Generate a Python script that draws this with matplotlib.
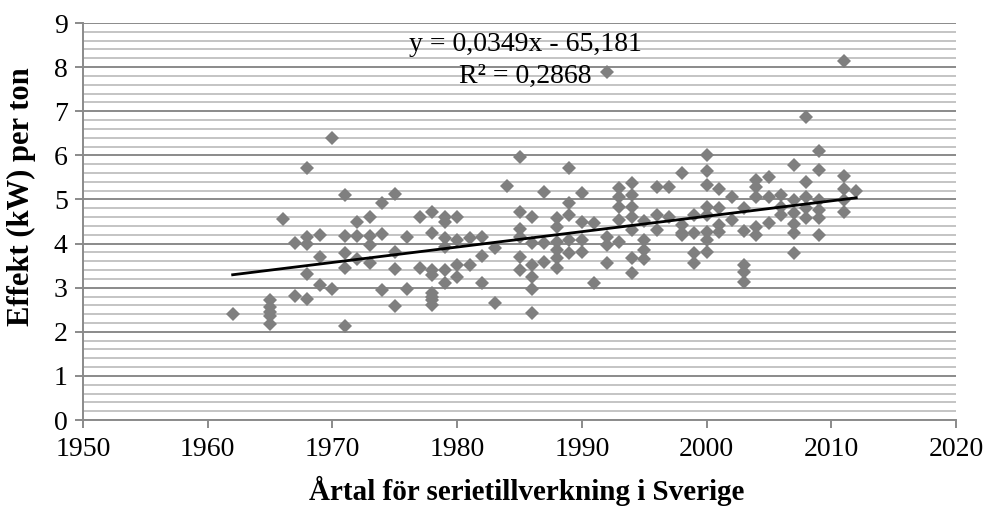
import matplotlib
matplotlib.use("Agg")
import matplotlib.pyplot as plt
from matplotlib.ticker import MultipleLocator

plt.rcParams['font.family'] = ['Liberation Serif', 'DejaVu Serif']

# Year of series production in Sweden and power per ton for each model
years = (
    [1962] + [1965] * 5 + [1966] + [1967] * 2 + [1968] * 5 + [1969] * 3 +
    [1970] * 2 + [1971] * 5 + [1972] * 3 + [1973] * 4 + [1974] * 3 +
    [1975] * 4 + [1976] * 2 + [1977] * 2 + [1978] * 8 + [1979] * 6 +
    [1980] * 4 + [1981] * 2 + [1982] * 3 + [1983] * 2 + [1984] +
    [1985] * 6 + [1986] * 6 + [1987] * 3 + [1988] * 6 + [1989] * 5 +
    [1990] * 4 + [1991] * 2 + [1992] * 4 + [1993] * 5 + [1994] * 7 +
    [1995] * 4 + [1996] * 3 + [1997] * 2 + [1998] * 4 + [1999] * 4 +
    [2000] * 8 + [2001] * 4 + [2002] * 2 + [2003] * 5 + [2004] * 5 +
    [2005] * 3 + [2006] * 3 + [2007] * 6 + [2008] * 5 + [2009] * 6 +
    [2011] * 5 + [2012]
)
power = [
    2.40,
    2.72, 2.57, 2.45, 2.35, 2.18,
    4.56,
    4.01, 2.82,
    5.71, 4.15, 4.00, 3.31, 2.74,
    4.20, 3.70, 3.05,
    6.40, 2.97,
    5.10, 4.17, 3.79, 3.44, 2.13,
    4.50, 4.17, 3.65,
    4.60, 4.17, 3.97, 3.55,
    4.93, 4.22, 2.95,
    5.13, 3.82, 3.42, 2.58,
    4.15, 2.97,
    4.60, 3.44,
    4.72, 4.24, 3.40, 3.29, 2.87, 2.80, 2.72, 2.60,
    4.60, 4.50, 4.13, 3.93, 3.40, 3.10,
    4.60, 4.08, 3.51, 3.25,
    4.13, 3.51,
    4.16, 3.72, 3.10,
    3.90, 2.66,
    5.30,
    5.97, 4.72, 4.33, 4.16, 3.70, 3.40,
    4.60, 4.01, 3.51, 3.25, 2.97, 2.43,
    5.18, 4.01, 3.59,
    4.58, 4.38, 4.04, 3.85, 3.67, 3.44,
    5.71, 4.92, 4.65, 4.08, 3.79,
    5.14, 4.50, 4.08, 3.82,
    4.47, 3.11,
    7.90, 4.16, 3.97, 3.57,
    5.26, 5.06, 4.84, 4.53, 4.04,
    5.37, 5.10, 4.84, 4.61, 4.31, 3.67, 3.34,
    4.52, 4.08, 3.85, 3.65,
    5.28, 4.65, 4.31,
    5.28, 4.60,
    5.60, 4.42, 4.24, 4.20,
    4.65, 4.24, 3.79, 3.55,
    6.01, 5.65, 5.33, 4.84, 4.65, 4.27, 4.08, 3.82,
    5.24, 4.81, 4.42, 4.27,
    5.06, 4.53,
    4.81, 4.29, 3.51, 3.36, 3.14,
    5.44, 5.28, 5.06, 4.38, 4.20,
    5.50, 5.06, 4.47,
    5.10, 4.84, 4.65,
    5.78, 4.99, 4.69, 4.44, 4.24, 3.79,
    6.88, 5.40, 5.06, 4.81, 4.58,
    6.10, 5.67, 4.99, 4.76, 4.58, 4.20,
    8.15, 5.53, 5.24, 4.99, 4.72,
    5.20,
]

# Linear trend line coefficients
slope = 0.0349
intercept = -65.181
r_squared = 0.2868

x_ticks = [1950, 1960, 1970, 1980, 1990, 2000, 2010, 2020]
y_ticks = list(range(0, 10))

fig = plt.figure(figsize=(9.87, 5.08), dpi=100)
ax = fig.add_axes([0.0841, 0.1732, 0.8845, 0.7815])

ax.set_xlim(1950, 2020)
ax.set_ylim(0, 9)
ax.set_xticks(x_ticks)
ax.set_yticks(y_ticks)
ax.yaxis.set_minor_locator(MultipleLocator(0.2))

ax.grid(which='minor', axis='y', color='#c4c4c4', lw=1.4, zorder=0)
ax.grid(which='major', axis='y', color='#8a8a8a', lw=1.4, zorder=0)
ax.set_axisbelow(True)

for side in ('top', 'right'):
    ax.spines[side].set_visible(False)
for side in ('left', 'bottom'):
    ax.spines[side].set_color('#8a8a8a')
    ax.spines[side].set_linewidth(1.4)

ax.tick_params(axis='both', which='major', direction='out', length=6,
               width=1.4, color='#8a8a8a', labelsize=20, labelcolor='black')
ax.tick_params(axis='x', pad=6)
ax.tick_params(axis='y', pad=5)
ax.tick_params(axis='y', which='minor', length=0)

ax.plot(years, power, linestyle='none', marker='D', markersize=7.3,
        color='#7f7f7f', markeredgewidth=0, zorder=3)

x_line = [min(years), max(years)]
y_line = [slope * x + intercept for x in x_line]
ax.plot(x_line, y_line, color='black', lw=2, zorder=4)

eq = f"y = {slope:.4f}x - {abs(intercept):.3f}".replace('.', ',')
r2 = f"R² = {r_squared:.4f}".replace('.', ',')
ax.text(1985.5, 8.52, eq, ha='center', va='center', fontsize=20, zorder=5)
ax.text(1985.5, 7.78, r2, ha='center', va='center', fontsize=20, zorder=5)

fig.text(527 / 987, 1 - 491 / 508, "Årtal för serietillverkning i Sverige",
         fontsize=21, fontweight='bold', ha='center', va='center')
fig.text(21 / 987, 1 - 197 / 508, "Effekt (kW) per ton", fontsize=22,
         fontweight='bold', ha='center', va='center', rotation=90)

fig.savefig("out.png", dpi=100)
